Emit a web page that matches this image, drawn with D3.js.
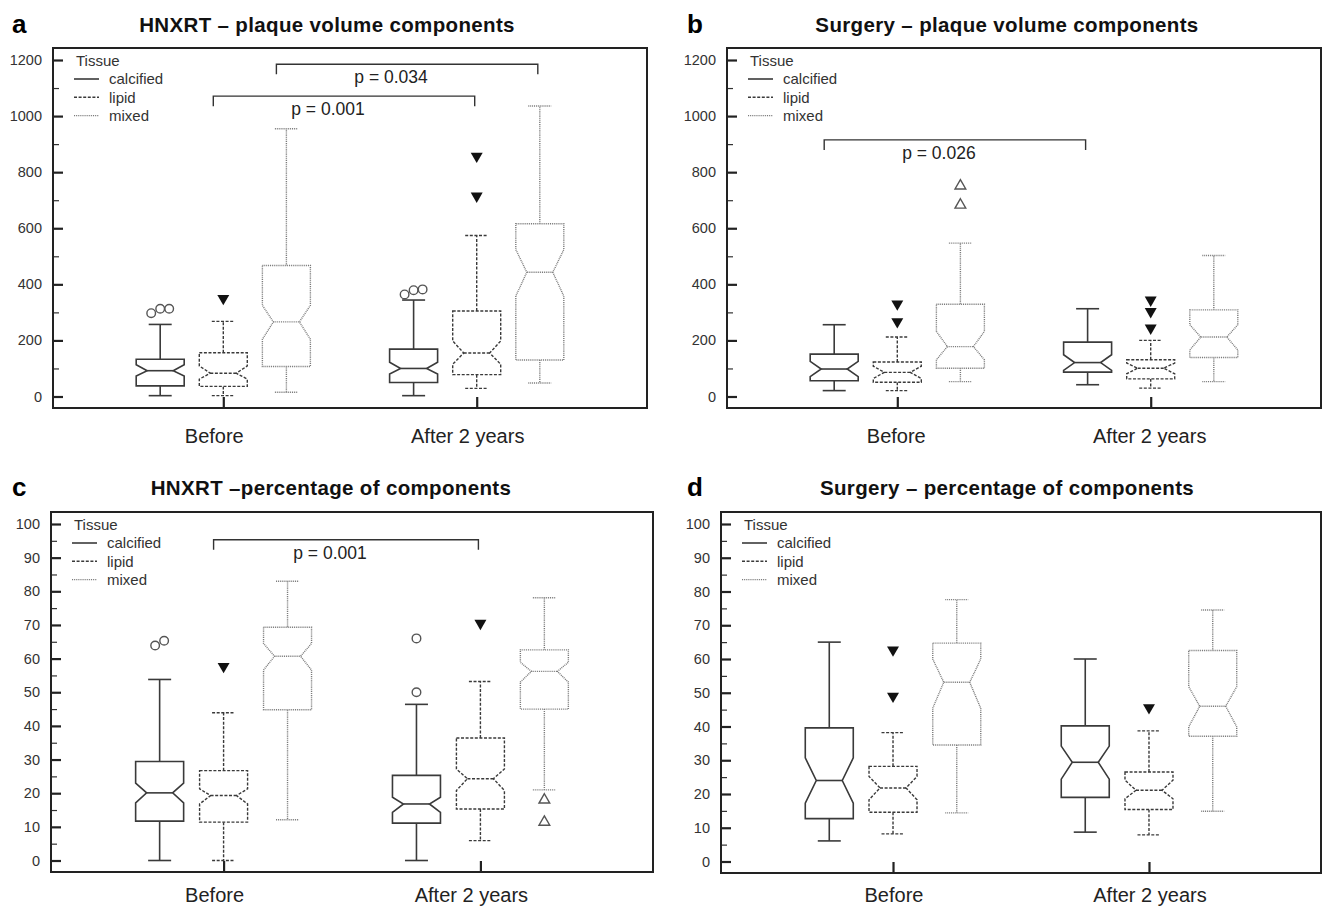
<!DOCTYPE html>
<html><head><meta charset="utf-8">
<script src="https://cdn.jsdelivr.net/npm/d3@7"></script>
<style>body{margin:0;background:#fff} svg{display:block;font-family:"Liberation Sans",Arial,sans-serif}</style>
</head><body>
<svg id="chart" width="1322" height="906"></svg>
<script>
// ---------- data ----------
const categories = ["Before", "After 2 years"];
const tissues = ["calcified", "lipid", "mixed"];
const panelLetters = ["a", "b", "c", "d"];
const panelTitles = [
  "HNXRT \u2013 plaque volume components",
  "Surgery \u2013 plaque volume components",
  "HNXRT \u2013percentage of components",
  "Surgery \u2013 percentage of components"
];
const volumeTicks = [0, 200, 400, 600, 800, 1000, 1200];
const volumeMinorTicks = [100, 300, 500, 700, 900, 1100];
const percentTicks = [0, 10, 20, 30, 40, 50, 60, 70, 80, 90, 100];
const percentMinorTicks = [5, 15, 25, 35, 45, 55, 65, 75, 85, 95];

// box stats per tissue (calcified, lipid, mixed): [min, q1, notch low, median, notch high, q3, max]
const hnxrtVolumeBefore = [[3, 38, 73, 92, 113, 133, 257], [3, 36, 62, 83, 109, 156, 268], [15, 107, 204, 266, 325, 467, 955]];
const hnxrtVolumeAfter  = [[3, 50, 80, 100, 122, 169, 344], [29, 78, 115, 155, 198, 305, 574], [48, 130, 358, 443, 524, 616, 1036]];
const hnxrtVolumeOutliersBefore = [[297, 313, 313], [350], []];
const hnxrtVolumeOutliersAfter  = [[364, 379, 382], [715, 857], []];

const surgeryVolumeBefore = [[21, 56, 71, 98, 125, 151, 256], [21, 51, 64, 86, 108, 123, 212], [53, 101, 131, 178, 232, 329, 547]];
const surgeryVolumeAfter  = [[42, 87, 93, 121, 149, 194, 313], [30, 63, 81, 101, 119, 131, 200], [53, 139, 166, 212, 256, 309, 503]];
const surgeryVolumeOutliersBefore = [[], [267, 330], [683, 751]];
const surgeryVolumeOutliersAfter  = [[], [244, 303, 344], []];

const hnxrtPercentBefore = [[0, 11.7, 17.1, 20.1, 23, 29.4, 53.8], [0, 11.4, 16.8, 19.3, 21.3, 26.7, 43.9], [12.1, 44.8, 56.6, 60.7, 64.5, 69.3, 83]];
const hnxrtPercentAfter  = [[0, 11.1, 14.3, 16.8, 18.8, 25.3, 46.4], [5.9, 15.3, 20.8, 24.3, 27.2, 36.4, 53.2], [21, 45, 53, 56.2, 58.9, 62.6, 78.1]];
const hnxrtPercentOutliersBefore = [[63.9, 65.3], [57.7], []];
const hnxrtPercentOutliersAfter  = [[50, 66], [70.5], [11.4, 18]];

const surgeryPercentBefore = [[6.1, 12.7, 17.3, 24, 30.7, 39.6, 65], [8.2, 14.6, 18.3, 21.8, 25.2, 28.2, 38.2], [14.4, 34.5, 45.4, 53.1, 60, 64.7, 77.6]];
const surgeryPercentAfter  = [[8.7, 19, 24.4, 29.4, 34.2, 40.2, 60], [7.9, 15.4, 18.6, 21.1, 24.1, 26.5, 38.7], [14.9, 37.1, 39.9, 46, 51.8, 62.5, 74.5]];
const surgeryPercentOutliersBefore = [[], [49, 62.7], []];
const surgeryPercentOutliersAfter  = [[], [45.6], []];

const hnxrtVolumeBrackets = [
  { from: ["Before", "lipid"], to: ["After 2 years", "lipid"], level: 1071, label: "p = 0.001" },
  { from: ["Before", "mixed"], to: ["After 2 years", "mixed"], level: 1185, label: "p = 0.034" }
];
const surgeryVolumeBrackets = [
  { from: ["Before", "calcified"], to: ["After 2 years", "calcified"], level: 915, label: "p = 0.026" }
];
const hnxrtPercentBrackets = [
  { from: ["Before", "lipid"], to: ["After 2 years", "lipid"], level: 95.3, label: "p = 0.001" }
];
const surgeryPercentBrackets = [];

// ---------- layout / styles ----------
const panels = [
  { letter: panelLetters[0], title: panelTitles[0], ticks: volumeTicks, minor: volumeMinorTicks,
    stats: [hnxrtVolumeBefore, hnxrtVolumeAfter], outliers: [hnxrtVolumeOutliersBefore, hnxrtVolumeOutliersAfter],
    brackets: hnxrtVolumeBrackets,
    frame: { l: 53, t: 48, r: 647, b: 408 }, titleX: 327, titleY: 31.5, letterX: 12, catY: 443, catDx: -9 },
  { letter: panelLetters[1], title: panelTitles[1], ticks: volumeTicks, minor: volumeMinorTicks,
    stats: [surgeryVolumeBefore, surgeryVolumeAfter], outliers: [surgeryVolumeOutliersBefore, surgeryVolumeOutliersAfter],
    brackets: surgeryVolumeBrackets,
    frame: { l: 727, t: 48, r: 1321, b: 408 }, titleX: 1007, titleY: 31.5, letterX: 687, catY: 443, catDx: -1 },
  { letter: panelLetters[2], title: panelTitles[2], ticks: percentTicks, minor: percentMinorTicks,
    stats: [hnxrtPercentBefore, hnxrtPercentAfter], outliers: [hnxrtPercentOutliersBefore, hnxrtPercentOutliersAfter],
    brackets: hnxrtPercentBrackets,
    frame: { l: 51, t: 512, r: 653, b: 872 }, titleX: 331, titleY: 495, letterX: 12, catY: 902, catDx: -9 },
  { letter: panelLetters[3], title: panelTitles[3], ticks: percentTicks, minor: percentMinorTicks,
    stats: [surgeryPercentBefore, surgeryPercentAfter], outliers: [surgeryPercentOutliersBefore, surgeryPercentOutliersAfter],
    brackets: surgeryPercentBrackets,
    frame: { l: 721, t: 512, r: 1321, b: 873 }, titleX: 1007, titleY: 495, letterX: 687, catY: 902, catDx: 1 }
];

const tissueStyle = {
  calcified: { stroke: "#3a3a3a", width: 1.6, dash: null },
  lipid:     { stroke: "#3a3a3a", width: 1.4, dash: "3,1.6" },
  mixed:     { stroke: "#7a7a7a", width: 1.4, dash: "1,0.9" }
};

const svg = d3.select("#chart");
const BOX_W = 48, NOTCH = 11, CAP_W = 23;

panels.forEach(p => {
  const f = p.frame;
  const g = svg.append("g");
  const y = d3.scaleLinear().domain([0, d3.max(p.ticks)]).range([f.b - 11.5, f.t + 12]);
  const x = d3.scalePoint().domain(categories).range([f.l, f.r]).padding(0.672);
  const off = x.step() * 0.249;
  const gx = (cat, tissue) => x(cat) + (tissues.indexOf(tissue) - 1) * off;

  // letter & title
  g.append("text").attr("x", p.letterX).attr("y", p.titleY + 1).attr("font-size", 26)
    .attr("font-weight", "bold").attr("fill", "#000").text(p.letter);
  g.append("text").attr("x", p.titleX).attr("y", p.titleY).attr("text-anchor", "middle")
    .attr("font-size", 20.5).attr("letter-spacing", "0.35px").attr("font-weight", "bold").attr("fill", "#111").text(p.title);

  // y axis (inward ticks)
  const yAxis = d3.axisRight(y).tickValues(p.ticks).tickSize(10).tickFormat("");
  const ya = g.append("g").attr("transform", `translate(${f.l},0)`).call(yAxis);
  ya.select(".domain").remove();
  ya.selectAll("line").attr("stroke", "#222").attr("stroke-width", 2.2);
  const yMinor = d3.axisRight(y).tickValues(p.minor).tickSize(6).tickFormat("");
  const ym = g.append("g").attr("transform", `translate(${f.l},0)`).call(yMinor);
  ym.select(".domain").remove();
  ym.selectAll("line").attr("stroke", "#333").attr("stroke-width", 1.2);
  // tick labels
  g.selectAll(".ylab").data(p.ticks).enter().append("text")
    .attr("x", f.l - 11).attr("y", d => y(d)).attr("dy", "0.35em")
    .attr("text-anchor", "end").attr("font-size", 14.5).attr("fill", "#333").text(d => d);

  // x axis ticks (inward, from bottom)
  const xAxis = d3.axisTop(x).tickSize(11).tickFormat("");
  const xa = g.append("g").attr("transform", `translate(0,${f.b})`).call(xAxis);
  xa.select(".domain").remove();
  xa.selectAll("line").attr("stroke", "#222").attr("stroke-width", 2.2);
  g.selectAll(".xlab").data(categories).enter().append("text")
    .attr("x", d => x(d) + p.catDx).attr("y", p.catY).attr("text-anchor", "middle")
    .attr("font-size", 20).attr("fill", "#222").text(d => d);

  // frame
  g.append("rect").attr("x", f.l).attr("y", f.t).attr("width", f.r - f.l).attr("height", f.b - f.t)
    .attr("fill", "none").attr("stroke", "#222").attr("stroke-width", 2);

  // legend
  g.append("text").attr("x", f.l + 23).attr("y", f.t + 13).attr("dy", "0.35em")
    .attr("font-size", 15).attr("fill", "#333").text("Tissue");
  tissues.forEach((t, i) => {
    const ly = f.t + 31 + i * 18.3;
    const s = tissueStyle[t];
    g.append("line").attr("x1", f.l + 21).attr("x2", f.l + 46).attr("y1", ly).attr("y2", ly)
      .attr("stroke", s.stroke).attr("stroke-width", s.width).attr("stroke-dasharray", s.dash);
    g.append("text").attr("x", f.l + 56).attr("y", ly).attr("dy", "0.35em")
      .attr("font-size", 15).attr("fill", "#333").text(t);
  });

  // boxes
  categories.forEach((cat, ci) => {
    tissues.forEach((t, ti) => {
      const [mn, q1, nlo0, med, nhi0, q3, mx] = p.stats[ci][ti];
      const nlo = Math.max(nlo0, q1), nhi = Math.min(nhi0, q3);
      const cx = gx(cat, t);
      const s = tissueStyle[t];
      const L = cx - BOX_W / 2, R = cx + BOX_W / 2;
      const bg = g.append("g").attr("fill", "none").attr("stroke", s.stroke)
        .attr("stroke-width", s.width).attr("stroke-dasharray", s.dash);
      // whiskers
      bg.append("line").attr("x1", cx).attr("x2", cx).attr("y1", y(q3)).attr("y2", y(mx));
      bg.append("line").attr("x1", cx).attr("x2", cx).attr("y1", y(q1)).attr("y2", y(mn));
      bg.append("line").attr("x1", cx - CAP_W / 2).attr("x2", cx + CAP_W / 2).attr("y1", y(mx)).attr("y2", y(mx));
      bg.append("line").attr("x1", cx - CAP_W / 2).attr("x2", cx + CAP_W / 2).attr("y1", y(mn)).attr("y2", y(mn));
      // notched box
      const pts = [[L, y(q3)], [R, y(q3)], [R, y(nhi)], [R - NOTCH, y(med)], [R, y(nlo)], [R, y(q1)],
                   [L, y(q1)], [L, y(nlo)], [L + NOTCH, y(med)], [L, y(nhi)]];
      bg.append("path").attr("d", d3.line()(pts) + "Z").attr("fill", "#fff");
      bg.append("line").attr("x1", L + NOTCH).attr("x2", R - NOTCH).attr("y1", y(med)).attr("y2", y(med));

      // outliers: spread horizontally if overlapping
      const vals = p.outliers[ci][ti].slice().sort((a, b) => a - b);
      const clusters = [];
      vals.forEach(v => {
        const last = clusters[clusters.length - 1];
        if (last && Math.abs(y(v) - y(last[last.length - 1])) < 8) last.push(v);
        else clusters.push([v]);
      });
      clusters.forEach(cl => {
        cl.forEach((v, k) => {
          const ox = cx + (k - (cl.length - 1) / 2) * 9;
          const oy = y(v);
          if (t === "calcified") {
            g.append("circle").attr("cx", ox).attr("cy", oy).attr("r", 4.3)
              .attr("fill", "#fff").attr("stroke", "#555").attr("stroke-width", 1.4);
          } else if (t === "lipid") {
            g.append("path").attr("d", d3.symbol(d3.symbolTriangle, 62)())
              .attr("transform", `translate(${ox},${oy}) rotate(180)`).attr("fill", "#111");
          } else {
            g.append("path").attr("d", d3.symbol(d3.symbolTriangle, 50)())
              .attr("transform", `translate(${ox},${oy})`).attr("fill", "#fff")
              .attr("stroke", "#555").attr("stroke-width", 1.4);
          }
        });
      });
    });
  });

  // significance brackets
  p.brackets.forEach(b => {
    const x1 = gx(b.from[0], b.from[1]) - 10;
    const x2 = gx(b.to[0], b.to[1]) - 2;
    const by = y(b.level);
    g.append("path").attr("d", `M${x1},${by + 10}V${by}H${x2}V${by + 10}`)
      .attr("fill", "none").attr("stroke", "#333").attr("stroke-width", 1.4);
    g.append("text").attr("x", (x1 + x2) / 2 - 16).attr("y", by + 19).attr("text-anchor", "middle")
      .attr("font-size", 17.5).attr("fill", "#222").text(b.label);
  });
});
</script>
</body></html>
